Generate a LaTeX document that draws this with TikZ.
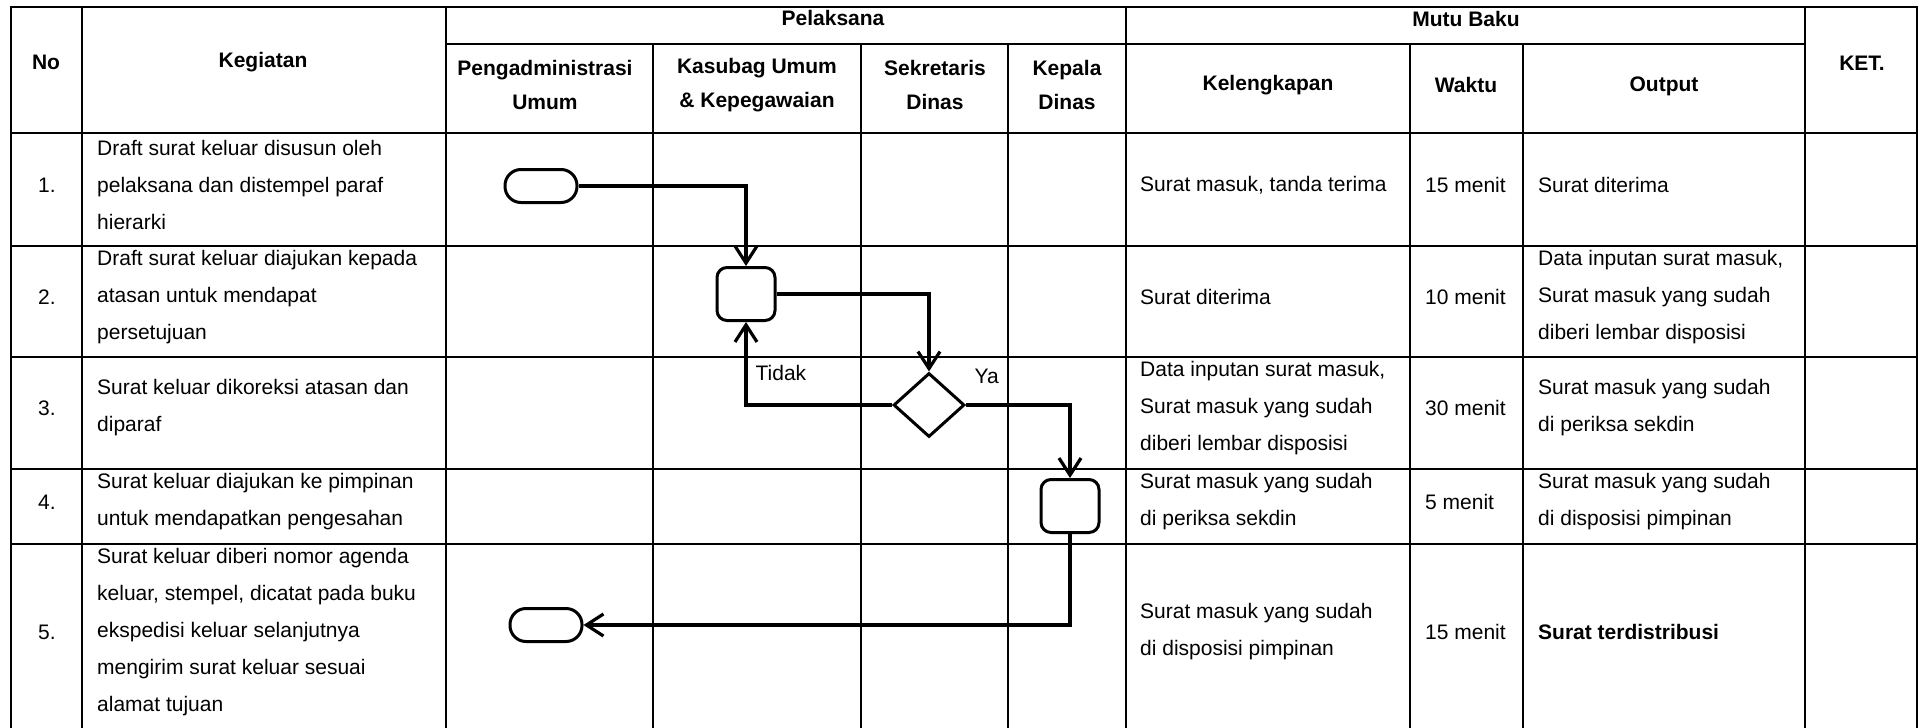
\documentclass[tikz,border=0pt]{standalone}
\usepackage{fontspec}
\setmainfont{Liberation Sans}
\usetikzlibrary{arrows.meta,shapes.geometric}

\begin{document}
\begin{tikzpicture}[x=1pt,y=-1pt,
    grid/.style={line width=2.5pt},
    txt/.style={anchor=west,align=left,inner sep=0pt,font=\fontsize{21}{37}\selectfont},
    num/.style={inner sep=0pt,font=\fontsize{21}{37}\selectfont},
    head/.style={align=center,inner sep=0pt,font=\fontsize{21}{34}\selectfont\bfseries},
    term/.style={draw,line width=3pt,rounded corners=16pt,minimum width=72pt,minimum height=33pt},
    proc/.style={draw,line width=3pt,rounded corners=10pt,minimum width=58pt,minimum height=53pt},
    decis/.style={draw,diamond,line width=3pt,inner sep=0pt,minimum width=71pt,minimum height=64pt},
    flow/.style={line width=3.2pt,-{Straight Barb[length=17pt,width=22pt]}},
    lbl/.style={inner sep=0pt,font=\fontsize{21}{25}\selectfont}]
  \useasboundingbox (0,0) rectangle (1925,728);
  % table lines
  \draw[grid] (11,728) -- (11,7) -- (1917,7) -- (1917,728);
  \draw[grid] (446,44) -- (1805,44);
  \foreach \y in {133,246,357,469,544}
    \draw[grid] (11,\y) -- (1917,\y);
  \foreach \x in {82,446,1126,1805}
    \draw[grid] (\x,7) -- (\x,728);
  \foreach \x in {653,861,1008,1410,1523}
    \draw[grid] (\x,44) -- (\x,728);

  % header
  \node[head] (no) at (46,62) {No};
  \node[head] (kegiatan) at (263,62) {Kegiatan};
  \node[head] (pelaksana) at (833,18) {Pelaksana};
  \node[head] (mutu) at (1466,19) {Mutu Baku};
  \node[head] (ket) at (1862,63) {KET.};
  \foreach \x/\name/\txt in {545/adm/{Pengadministrasi\\Umum},757/kasubag/{Kasubag Umum\\\& Kepegawaian},
      935/sekdin/{Sekretaris\\Dinas},1067/kadin/{Kepala\\Dinas}}
    \node[head] (\name) at (\x,85) {\txt};
  \node[head] (kelengkapan) at (1268,85) {Kelengkapan};
  \node[head] (waktu) at (1466,85) {Waktu};
  \node[head] (output) at (1664,86) {Output};

  % rows
  \foreach \i/\y/\keg/\kel/\wkt/\out in {
      1/185/{Draft surat keluar disusun oleh\\pelaksana dan distempel paraf\\hierarki}/{Surat masuk, tanda terima}/{15 menit}/{Surat diterima},
      2/297/{Draft surat keluar diajukan kepada\\atasan untuk mendapat\\persetujuan}/{Surat diterima}/{10 menit}/{Data inputan surat masuk,\\Surat masuk yang sudah\\diberi lembar disposisi},
      3/408/{Surat keluar dikoreksi atasan dan\\diparaf}/{Data inputan surat masuk,\\Surat masuk yang sudah\\diberi lembar disposisi}/{30 menit}/{Surat masuk yang sudah\\di periksa sekdin},
      4/502/{Surat keluar diajukan ke pimpinan\\untuk mendapatkan pengesahan}/{Surat masuk yang sudah\\di periksa sekdin}/{5 menit}/{Surat masuk yang sudah\\di disposisi pimpinan},
      5/632/{Surat keluar diberi nomor agenda\\keluar, stempel,  dicatat pada buku\\ekspedisi keluar selanjutnya\\mengirim surat keluar sesuai\\alamat tujuan}/{Surat masuk yang sudah\\di disposisi pimpinan}/{15 menit}/{\textbf{Surat terdistribusi}}} {
    \node[num] (no\i) at (47,\y) {\i.};
    \node[txt] (keg\i) at (97,\y) {\keg};
    \node[txt] (kel\i) at (1140,\y) {\kel};
    \node[txt] (wkt\i) at (1425,\y) {\wkt};
    \node[txt] (out\i) at (1538,\y) {\out};
  }

  % flow
  \node[term] (start) at (541,186) {};
  \node[proc] (proc1) at (746,294) {};
  \node[decis] (dec) at (929,405) {};
  \node[proc] (proc2) at (1070,506) {};
  \node[term] (stop) at (546,625) {};

  \draw[flow] (start.east) -| (proc1.north);
  \draw[flow] (proc1.east) -| (dec.north);
  \draw[flow] (dec.west) -| (proc1.south) node[lbl,pos=0.69,right=8pt] (tidak) {Tidak};
  \draw[flow] (dec.east) -| (proc2.north) node[lbl,pos=0.1,above=20pt] (ya) {Ya};
  \draw[flow] (proc2.south) |- (stop.east);
\end{tikzpicture}
\end{document}
